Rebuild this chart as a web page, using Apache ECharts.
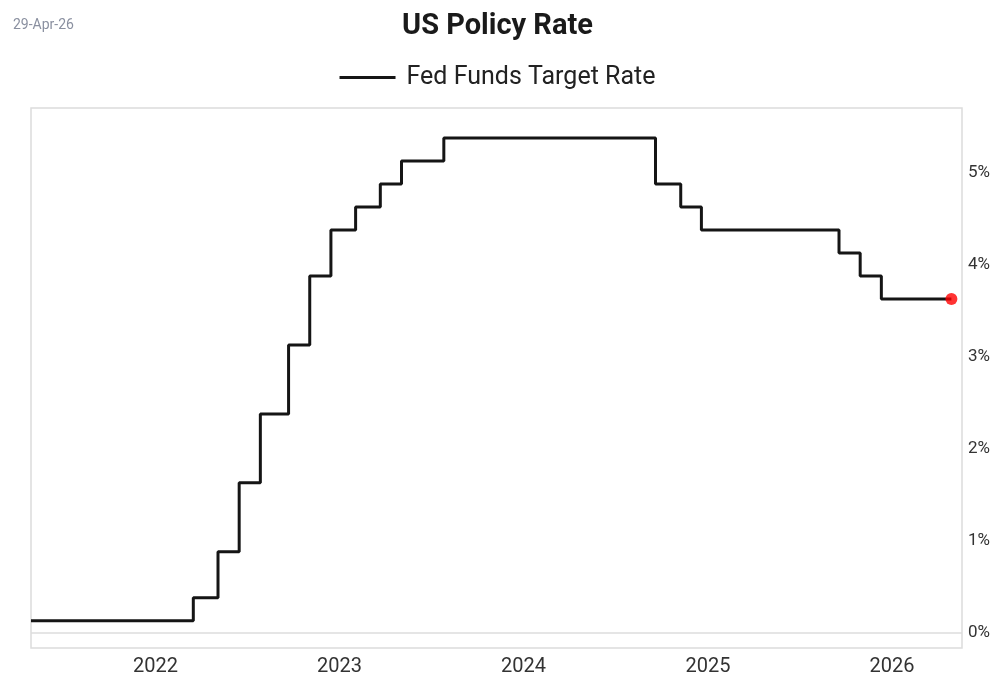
<!DOCTYPE html>
<html>
<head>
<meta charset="utf-8">
<script src="https://cdn.jsdelivr.net/npm/echarts@6/dist/echarts.min.js"></script>
<style>
html,body{margin:0;padding:0;background:#fff;}
#chart{width:995px;height:679px;}
</style>
</head>
<body>
<div id="chart"></div>
<script>
var asOfLabel = '29-Apr-26';
var titleText = 'US Policy Rate';
var seriesName = 'Fed Funds Target Rate';
var dates = ['2021-04-29','2022-03-17','2022-05-05','2022-06-16','2022-07-28','2022-09-22','2022-11-03','2022-12-15','2023-02-02','2023-03-23','2023-05-04','2023-07-27','2024-09-19','2024-11-08','2024-12-19','2025-09-18','2025-10-30','2025-12-11','2026-04-29'];
var rates = [0.125,0.375,0.875,1.625,2.375,3.125,3.875,4.375,4.625,4.875,5.125,5.375,4.875,4.625,4.375,4.125,3.875,3.625,3.625];
var xMin = '2021-04-29';
var xMax = '2026-05-20';
var yMin = -0.17;
var yMax = 5.7;

var lineData = dates.map(function(d,i){return [d, rates[i]];});
var lastPoint = [[dates[dates.length-1], rates[rates.length-1]]];
var FONT = 'Roboto, "DejaVu Sans", sans-serif';
var YEAR = 365*24*3600*1000;

var chart = echarts.init(document.getElementById('chart'));
chart.setOption({
  animation: false,
  backgroundColor: '#fff',
  title: [
    {text: titleText, left: 'center', top: 7, textStyle: {fontFamily: FONT, fontSize: 29, fontWeight: 'bold', color: '#1a1a1a'}},
    {text: asOfLabel, left: 8, top: 13, textStyle: {fontFamily: FONT, fontSize: 14, fontWeight: 'normal', color: '#8a90a0'}}
  ],
  legend: {
    top: 60, left: 'center',
    itemWidth: 56, itemHeight: 3, itemGap: 10,
    icon: 'rect',
    data: [{name: seriesName, icon: 'rect'}],
    textStyle: {fontFamily: FONT, fontSize: 25, color: '#222', padding: [0, 0, 0, 6]}
  },
  grid: {left: 31, right: 33, top: 108, bottom: 31, show: true, borderColor: '#dcdcdc', borderWidth: 1.5, containLabel: false},
  xAxis: {
    type: 'time', min: xMin, max: xMax,
    minInterval: YEAR, maxInterval: YEAR,
    axisLine: {show: false}, axisTick: {show: false}, splitLine: {show: false},
    axisLabel: {formatter: '{yyyy}', fontFamily: FONT, fontSize: 20, color: '#333', margin: 9, showMinLabel: false, showMaxLabel: false}
  },
  yAxis: {
    type: 'value', position: 'right', min: yMin, max: yMax, splitNumber: 6,
    axisLine: {show: false}, axisTick: {show: false}, splitLine: {show: false},
    axisLabel: {formatter: function(v){return Math.abs(v - Math.round(v)) < 1e-9 ? Math.round(v) + '%' : '';}, fontFamily: FONT, fontSize: 17, color: '#333', margin: 6, showMinLabel: false, showMaxLabel: false}
  },
  series: [
    {
      name: seriesName, type: 'line', step: 'end', data: lineData,
      showSymbol: false, symbol: 'none',
      lineStyle: {color: '#151515', width: 3},
      itemStyle: {color: '#151515'},
      markLine: {silent: true, symbol: 'none', label: {show: false}, lineStyle: {color: '#dcdcdc', width: 1.5, type: 'solid'}, data: [{yAxis: 0}]},
      z: 3
    },
    {
      name: 'last', type: 'scatter', data: lastPoint, symbolSize: 12,
      itemStyle: {color: '#ff0000'}, z: 4
    }
  ]
});
</script>
</body>
</html>
